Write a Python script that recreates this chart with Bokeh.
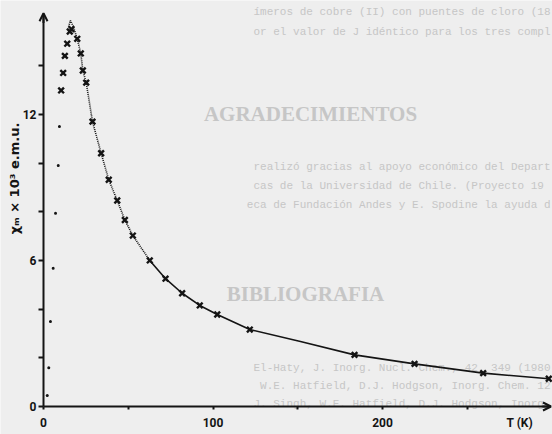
from math import pi
from bokeh.plotting import figure
from bokeh.models import Range1d, FixedTicker, Label, Arrow, OpenHead
from bokeh.embed import file_html
from bokeh.resources import INLINE

# ---------------- data ----------------
# measured susceptibility points (crosses)
T_data = [10.4, 11.6, 12.6, 14.0, 15.5, 16.5, 19.9, 22.0, 23.2, 25.2, 28.9, 34.0,
          38.5, 43.5, 48.0, 52.7, 62.7, 72.0, 81.8, 92.2, 102.5, 121.7, 183.5,
          218.9, 259.4, 298.1]
chi_data = [12.98, 13.7, 14.4, 14.9, 15.4, 15.5, 15.1, 14.5, 13.8, 13.3, 11.7, 10.4,
            9.31, 8.46, 7.66, 7.02, 6.0, 5.25, 4.65, 4.15, 3.78, 3.16, 2.12,
            1.75, 1.37, 1.14]

# calculated curve: isolated dots on the steep low-T side
fit_dot_T = [2.2, 3.1, 4.1, 5.7, 7.1, 8.7, 9.4]
fit_dot_chi = [0.45, 1.59, 3.49, 5.68, 7.94, 9.9, 11.5]

# calculated curve: dotted part around the maximum
fit_dotted_T = [14.8, 15.9, 17.6, 19.9, 22.0, 23.2, 25.2, 28.9, 34.0, 38.5, 43.5,
                48.0, 52.7, 62.7]
fit_dotted_chi = [15.6, 15.85, 15.6, 15.1, 14.5, 13.8, 13.3, 11.7, 10.4, 9.31, 8.46,
                  7.66, 7.02, 6.0]

# calculated curve: solid part at high T
fit_solid_T = [62.7, 72.0, 81.8, 92.2, 102.5, 121.7, 151.6, 183.5, 218.9, 259.4, 298.1]
fit_solid_chi = [6.0, 5.25, 4.65, 4.15, 3.78, 3.16, 2.67, 2.12, 1.75, 1.37, 1.14]

x_ticks = [0, 100, 200]
x_tick_marks = [0, 50, 100, 150, 200, 250]
x_title_pos = 281
x_tick_labels = {0: "0", 100: "100", 200: "200", x_title_pos: "T (K)"}
y_ticks = [0, 2, 4, 6, 8, 10, 12, 14]
y_tick_labels = {0: "0", 2: "", 4: "", 6: "6", 8: "", 10: "", 12: "12", 14: ""}
x_axis_end = 299.4
y_axis_end = 16.15

y_label = "χₘ × 10³ e.m.u."

# faint page text around the figure
page_lines = [
    "ímeros de cobre (II) con puentes de cloro (18",
    "or el valor de J idéntico para los tres compl",
    "realizó gracias al apoyo económico del Depart",
    "cas de la Universidad de Chile.  (Proyecto 19",
    "eca de Fundación Andes y E. Spodine la ayuda d",
    "El-Haty, J. Inorg. Nucl. Chem., 42, 349 (1980",
    "W.E. Hatfield, D.J. Hodgson, Inorg. Chem. 12",
    "J. Singh, W.E. Hatfield, D.J. Hodgson, Inorg.",
]
page_headings = ["AGRADECIMIENTOS", "BIBLIOGRAFIA"]

# ---------------- layout ----------------
W, H = 552, 434
OX, OY = 43, 406                           # pixel position of the origin
PXK, PXC = 1.695, 24.35                    # pixels per kelvin / per chi unit
X0, X1 = (0 - OX) / PXK, (W - OX) / PXK
Y0, Y1 = (OY - H) / PXC, (OY - 0) / PXC

def dx(px):
    return (px - OX) / PXK

def dy(py):
    return (OY - py) / PXC

PAPER = "#eeeeee"
INK = "#141414"
FAINT = "#c6c6c6"

p = figure(width=W, height=H, output_backend="svg", toolbar_location=None,
           x_range=Range1d(X0, X1), y_range=Range1d(Y0, Y1),
           min_border=0)
p.background_fill_color = PAPER
p.border_fill_color = PAPER
p.outline_line_color = None
p.grid.visible = False

for ax in (p.xaxis[0], p.yaxis[0]):
    ax.fixed_location = 0
    ax.axis_line_color = INK
    ax.axis_line_width = 2
    ax.major_tick_line_color = INK
    ax.major_tick_line_width = 2
    ax.major_tick_in = 0
    ax.minor_tick_in = 0
    ax.major_label_text_font = "Roboto"
    ax.major_label_text_font_style = "bold"
    ax.major_label_text_font_size = "12px"
    ax.major_label_text_color = INK

p.xaxis.ticker = FixedTicker(ticks=x_ticks + [x_title_pos], minor_ticks=x_tick_marks)
p.xaxis.major_label_overrides = x_tick_labels
p.xaxis.major_tick_line_color = None
p.xaxis.minor_tick_line_color = INK
p.xaxis.minor_tick_line_width = 2
p.xaxis.minor_tick_out = 3
p.xaxis.major_tick_out = 3
p.xaxis.major_label_standoff = 6
p.xaxis.bounds = (0, x_axis_end)

p.yaxis.ticker = FixedTicker(ticks=y_ticks)
p.yaxis.major_label_overrides = y_tick_labels
p.yaxis.minor_tick_line_color = None
p.yaxis.major_tick_out = 5
p.yaxis.major_label_standoff = 2
p.yaxis.bounds = (0, y_axis_end)

# axis arrow heads
p.add_layout(Arrow(end=OpenHead(size=8, line_width=2, line_color=INK),
                   x_start=x_axis_end - 5, y_start=0, x_end=x_axis_end, y_end=0,
                   line_width=2, line_color=INK))
p.add_layout(Arrow(end=OpenHead(size=8, line_width=2, line_color=INK),
                   x_start=0, y_start=y_axis_end - 0.4, x_end=0, y_end=y_axis_end,
                   line_width=2, line_color=INK))

# y-axis title
p.add_layout(Label(x=dx(14), y=dy(178), text=y_label, text_font="DejaVu Sans",
                   text_font_style="bold", text_font_size="13px", text_color=INK,
                   angle=pi / 2, text_align="center", text_baseline="middle"))

# faint background page text (right edge of the page crop)
line_y = [11, 31, 166, 185, 204, 367, 385, 403]
for txt, py in zip(page_lines, line_y):
    p.add_layout(Label(x=dx(550), y=dy(py), text=txt, text_font="Liberation Mono",
                       text_font_size="11px", text_color=FAINT,
                       text_align="right", text_baseline="middle", level="underlay"))
head_pos = [(310, 113), (305, 293)]
for txt, (px, py) in zip(page_headings, head_pos):
    p.add_layout(Label(x=dx(px), y=dy(py), text=txt, text_font="Liberation Serif",
                       text_font_style="bold", text_font_size="21px", text_color=FAINT,
                       text_align="center", text_baseline="middle", level="underlay"))

# calculated curve
p.line(fit_dotted_T, fit_dotted_chi, line_color=INK, line_width=1.6, line_dash="1 1")
p.line(fit_solid_T, fit_solid_chi, line_color=INK, line_width=1.6)
p.scatter(fit_dot_T, fit_dot_chi, marker="circle", size=3, fill_color=INK, line_color=None)

# measured points
p.scatter(T_data, chi_data, marker="x", size=8, line_color=INK, line_width=2.4)

open("out.html", "w").write(file_html(p, INLINE))
